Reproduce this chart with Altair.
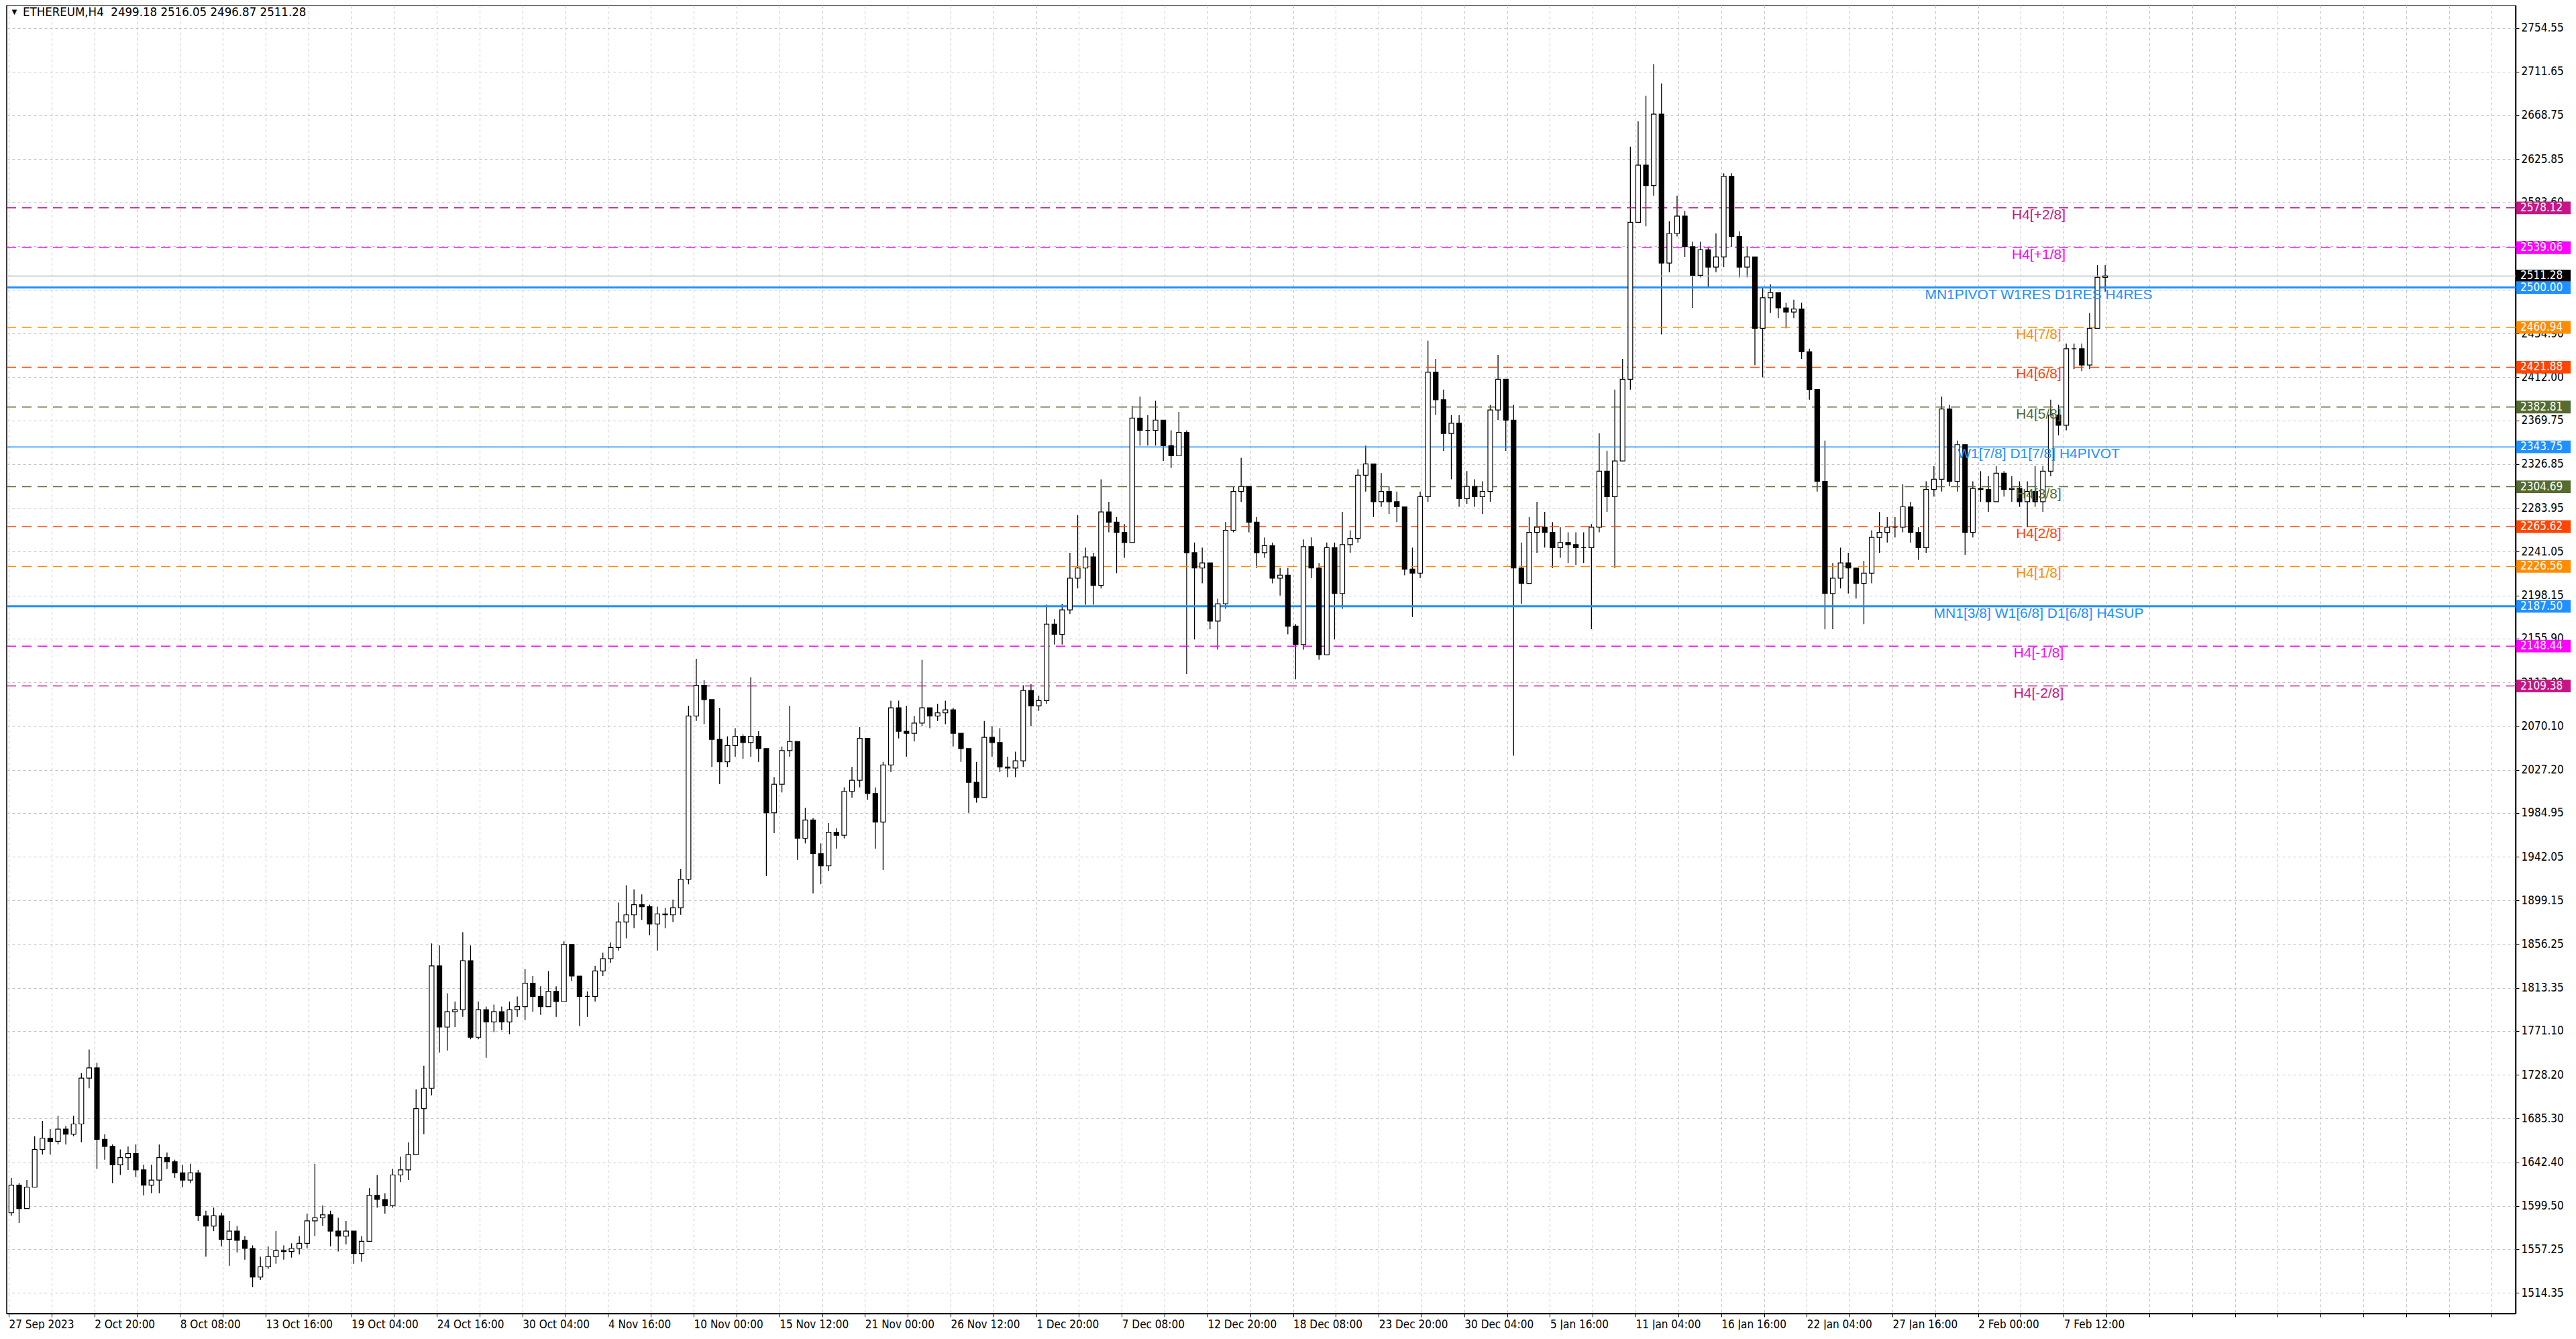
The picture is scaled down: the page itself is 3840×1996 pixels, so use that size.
import altair as alt
import pandas as pd

# ---------------- data (12-hour candles) ----------------
first_open = 1593
closes = [1620,1597,1618,1655,1666,1663,1675,1670,1680,1725,1735,1665,1658,1640,1647,1651,1635,1620,1625,1647,
          1643,1632,1625,1632,1590,1580,1590,1567,1575,1566,1558,1530,1540,1550,1556,1555,1558,1563,1585,1588,
          1591,1575,1570,1575,1553,1565,1610,1606,1600,1630,1635,1650,1695,1715,1835,1775,1790,1792,1840,1765,
          1792,1780,1790,1780,1792,1795,1818,1805,1795,1810,1800,1856,1825,1805,1805,1830,1842,1853,1878,1885,
          1895,1893,1876,1886,1885,1892,1920,2080,2110,2096,2057,2035,2051,2060,2054,2060,2048,1985,2013,2046,
          2055,1960,1978,1945,1933,1966,1963,2006,2017,2058,2004,1976,2032,2088,2065,2063,2073,2088,2080,2083,
          2086,2063,2048,2015,2000,2059,2054,2030,2029,2036,2105,2090,2095,2170,2160,2184,2215,2225,2236,2208,
          2280,2270,2260,2250,2372,2360,2360,2370,2345,2335,2358,2240,2225,2230,2173,2190,2262,2300,2305,2270,
          2240,2247,2215,2218,2168,2150,2246,2225,2140,2245,2200,2248,2254,2316,2327,2290,2300,2290,2285,2224,
          2220,2295,2417,2390,2357,2367,2293,2305,2295,2300,2380,2410,2370,2225,2210,2260,2265,2260,2245,2250,
          2248,2245,2245,2265,2320,2295,2330,2410,2564,2620,2600,2670,2524,2553,2570,2540,2512,2537,2520,2530,
          2609,2550,2520,2530,2460,2490,2495,2480,2476,2479,2437,2400,2310,2200,2215,2230,2225,2210,2220,2255,
          2260,2265,2265,2285,2260,2245,2302,2312,2381,2310,2346,2260,2303,2302,2290,2318,2302,2303,2290,2300,
          2290,2320,2375,2365,2440,2440,2424,2460,2510,2511.28]
highs = [1627,1622,1625,1668,1683,1675,1688,1678,1688,1730,1753,1740,1670,1660,1655,1658,1660,1640,1640,1660,
         1652,1645,1640,1641,1635,1595,1598,1593,1585,1580,1570,1561,1550,1560,1575,1561,1563,1570,1592,1641,
         1600,1595,1588,1585,1575,1570,1617,1630,1612,1636,1648,1662,1714,1737,1857,1855,1808,1800,1868,1855,
         1800,1795,1797,1795,1800,1805,1832,1825,1815,1830,1815,1859,1850,1825,1810,1835,1848,1858,1897,1914,
         1910,1905,1895,1893,1892,1900,1930,2090,2136,2115,2075,2088,2060,2068,2062,2118,2065,2045,2020,2050,
         2090,2045,1990,1980,1955,1975,1970,2010,2030,2069,2040,2010,2035,2095,2095,2090,2080,2135,2088,2092,
         2095,2088,2060,2040,2035,2075,2070,2068,2040,2045,2110,2111,2100,2189,2175,2190,2240,2277,2245,2240,
         2312,2290,2275,2268,2384,2393,2375,2389,2368,2360,2378,2360,2250,2245,2230,2195,2270,2305,2333,2305,
         2275,2255,2250,2225,2225,2170,2253,2255,2230,2250,2250,2280,2262,2322,2345,2305,2318,2305,2300,2275,
         2245,2300,2448,2430,2400,2375,2375,2320,2312,2310,2385,2434,2400,2385,2250,2275,2290,2280,2270,2265,
         2260,2260,2260,2268,2357,2340,2400,2430,2638,2663,2688,2719,2700,2565,2590,2575,2545,2545,2540,2553,
         2612,2612,2555,2540,2530,2500,2503,2490,2485,2488,2485,2440,2400,2350,2230,2245,2240,2225,2232,2262,
         2280,2275,2275,2307,2290,2265,2310,2325,2393,2385,2350,2345,2310,2320,2315,2325,2320,2315,2310,2310,
         2325,2325,2390,2385,2445,2445,2445,2475,2522,2522]
lows = [1590,1583,1598,1620,1650,1650,1660,1660,1668,1662,1715,1636,1645,1622,1630,1635,1628,1610,1612,1612,
        1636,1627,1618,1622,1585,1550,1575,1560,1541,1554,1547,1520,1527,1538,1543,1547,1549,1552,1558,1570,
        1580,1560,1555,1562,1543,1545,1565,1598,1592,1598,1623,1625,1665,1670,1708,1750,1752,1775,1785,1763,
        1763,1745,1770,1772,1768,1785,1782,1790,1787,1795,1785,1800,1820,1776,1785,1800,1825,1838,1850,1862,
        1872,1880,1865,1850,1872,1878,1885,1915,2075,2072,2030,2013,2030,2040,2038,2040,2035,1923,1965,2005,
        2040,1939,1955,1906,1915,1928,1950,1960,2000,2010,1998,1950,1929,2025,2058,2040,2055,2070,2068,2075,
        2072,2050,2035,1985,1995,2020,2040,2025,2020,2020,2030,2070,2085,2092,2150,2150,2180,2205,2189,2189,
        2205,2260,2220,2235,2250,2345,2345,2345,2330,2323,2340,2121,2155,2210,2165,2145,2185,2260,2290,2260,
        2225,2235,2210,2198,2160,2116,2145,2215,2135,2140,2155,2185,2240,2250,2300,2275,2285,2278,2270,2218,
        2177,2215,2290,2375,2340,2312,2285,2288,2285,2278,2290,2370,2340,2041,2190,2215,2240,2245,2225,2235,
        2230,2228,2230,2165,2260,2280,2225,2330,2400,2590,2560,2590,2454,2515,2550,2530,2480,2510,2500,2515,
        2520,2540,2510,2510,2424,2412,2475,2470,2460,2470,2430,2390,2300,2165,2165,2205,2200,2195,2170,2210,
        2240,2250,2255,2260,2250,2233,2240,2295,2300,2305,2300,2238,2255,2290,2280,2290,2295,2290,2285,2265,
        2285,2280,2315,2355,2360,2420,2418,2420,2460,2496]

# horizontal levels drawn by the indicator
level_prices = [2578.12, 2539.06, 2500.00, 2460.94, 2421.88, 2382.81, 2343.75,
                2304.69, 2265.62, 2226.56, 2187.50, 2148.44, 2109.38]
level_names = ["H4[+2/8]", "H4[+1/8]", "MN1PIVOT W1RES D1RES H4RES", "H4[7/8]", "H4[6/8]",
               "H4[5/8]", "W1[7/8] D1[7/8] H4PIVOT", "H4[3/8]", "H4[2/8]", "H4[1/8]",
               "MN1[3/8] W1[6/8] D1[6/8] H4SUP", "H4[-1/8]", "H4[-2/8]"]
level_colors = ["#C71585", "#FF00FF", "#1E90FF", "#FF8C00", "#FF4500", "#556B2F", "#1E90FF",
                "#556B2F", "#FF4500", "#FF8C00", "#1E90FF", "#FF00FF", "#C71585"]
level_solid = [False, False, True, False, False, False, True, False, False, False, True, False, False]
level_width = [1.5, 1.5, 3, 1.5, 1.5, 1.5, 1.5, 1.5, 1.5, 1.5, 3, 1.5, 1.5]

last_price = 2511.28
header_text = "ETHEREUM,H4\u00a0\u00a02499.18 2516.05 2496.87 2511.28"

y_ticks = [2754.55, 2711.65, 2668.75, 2625.85, 2583.60, 2540.70, 2497.80, 2454.90, 2412.00,
           2369.75, 2326.85, 2283.95, 2241.05, 2198.15, 2155.90, 2113.00, 2070.10, 2027.20,
           1984.95, 1942.05, 1899.15, 1856.25, 1813.35, 1771.10, 1728.20, 1685.30, 1642.40,
           1599.50, 1557.25, 1514.35]
x_labels = ["27 Sep 2023", "2 Oct 20:00", "8 Oct 08:00", "13 Oct 16:00", "19 Oct 04:00",
            "24 Oct 16:00", "30 Oct 04:00", "4 Nov 16:00", "10 Nov 00:00", "15 Nov 12:00",
            "21 Nov 00:00", "26 Nov 12:00", "1 Dec 20:00", "7 Dec 08:00", "12 Dec 20:00",
            "18 Dec 08:00", "23 Dec 20:00", "30 Dec 04:00", "5 Jan 16:00", "11 Jan 04:00",
            "16 Jan 16:00", "22 Jan 04:00", "27 Jan 16:00", "2 Feb 00:00", "7 Feb 12:00"]
bars_per_label = 33   # H4 bars between two time labels
h4_per_candle = 3     # each drawn candle = 12 hours

# ---------------- tables ----------------
opens = [first_open] + closes[:-1]
candles = pd.DataFrame({
    "idx": [h4_per_candle * k + 1 for k in range(len(closes))],
    "open": opens, "close": closes, "high": highs, "low": lows,
})
candles["fill"] = ["white" if c >= o else "black" for o, c in zip(opens, closes)]

levels = pd.DataFrame({"price": level_prices, "name": level_names, "color": level_colors,
                       "solid": level_solid, "w": level_width})
boxes = pd.DataFrame({"price": [last_price] + level_prices,
                      "color": ["#000000"] + level_colors})
boxes["label"] = [f"{p:.2f}" for p in boxes["price"]]

W, H = 3740, 1950
FONT = "DejaVu Sans Condensed, DejaVu Sans, sans-serif"
xs = alt.Scale(domain=[0.516, 964.9], nice=False, zero=False)
ys = alt.Scale(domain=[1494.2, 2776.6], nice=False, zero=False)

label_arr = "[" + ",".join(f"'{s}'" for s in x_labels) + "]"
last_lab = bars_per_label * (len(x_labels) - 1)
x_axis = alt.Axis(
    values=[bars_per_label / 2 * i for i in range(59)],
    labelExpr=f"(datum.value % {bars_per_label} == 0 && datum.value <= {last_lab}) ? "
              f"{label_arr}[round(datum.value / {bars_per_label})] : ''",
    grid=True, gridDash=[4, 4], gridColor="#c4c4c4", gridWidth=1,
    tickSize=5, tickColor="black", domainColor="black", domainWidth=1.5,
    labelAlign="left", labelPadding=3, labelFont=FONT, labelFontSize=17,
    labelColor="black", labelOverlap=False, labelFlush=False, title=None,
)
y_axis = alt.Axis(
    orient="right", values=y_ticks, format=".2f",
    grid=True, gridDash=[4, 4], gridColor="#c4c4c4", gridWidth=1,
    tickSize=5, tickColor="black", domainColor="black", domainWidth=1.5,
    labelPadding=3, labelFont=FONT, labelFontSize=17, labelColor="black",
    labelOverlap=False, labelFlush=False, title=None,
)

wicks = alt.Chart(candles).mark_rule(color="black", strokeWidth=1.3, clip=True).encode(
    x=alt.X("idx:Q", scale=xs, axis=x_axis),
    y=alt.Y("low:Q", scale=ys, axis=y_axis),
    y2="high:Q",
)
bodies = alt.Chart(candles).mark_bar(size=7, stroke="black", strokeWidth=1.2, clip=True).encode(
    x=alt.X("idx:Q", scale=xs),
    y=alt.Y("open:Q", scale=ys),
    y2="close:Q",
    fill=alt.Fill("fill:N", scale=None),
)

dashed = alt.Chart(levels).transform_filter("!datum.solid").mark_rule(strokeDash=[14, 9]).encode(
    y=alt.Y("price:Q", scale=ys),
    color=alt.Color("color:N", scale=None),
    strokeWidth=alt.StrokeWidth("w:Q", scale=None),
)
solid = alt.Chart(levels).transform_filter("datum.solid").mark_rule().encode(
    y=alt.Y("price:Q", scale=ys),
    color=alt.Color("color:N", scale=None),
    strokeWidth=alt.StrokeWidth("w:Q", scale=None),
)
cur_line = alt.Chart(pd.DataFrame({"price": [last_price]})).mark_rule(
    color="#c0c0c0", strokeWidth=1.5).encode(y=alt.Y("price:Q", scale=ys))

level_text = alt.Chart(levels).mark_text(
    align="center", baseline="middle", dy=11, font="Liberation Sans, Arial, sans-serif",
    fontSize=21).encode(
    x=alt.value(3029),
    y=alt.Y("price:Q", scale=ys),
    color=alt.Color("color:N", scale=None),
    text="name:N",
)

box_rect = alt.Chart(boxes).transform_calculate(
    lo="datum.price - 6.2", hi="datum.price + 6.2"
).mark_rect().encode(
    x=alt.value(W + 1), x2=alt.value(W + 82),
    y=alt.Y("lo:Q", scale=ys), y2="hi:Q",
    color=alt.Color("color:N", scale=None),
)
box_text = alt.Chart(boxes).mark_text(
    align="left", baseline="middle", font=FONT, fontSize=17, color="white").encode(
    x=alt.value(W + 7),
    y=alt.Y("price:Q", scale=ys),
    text="label:N",
)

hdr = pd.DataFrame({"t": [header_text]})
header = alt.Chart(hdr).mark_text(align="left", baseline="middle", font=FONT,
                                  fontSize=18.5, color="black").encode(
    x=alt.value(24), y=alt.value(10), text="t:N")
tri = alt.Chart(pd.DataFrame({"t": ["▼"]})).mark_text(
    align="left", baseline="middle", fontSize=13, color="black").encode(
    x=alt.value(5), y=alt.value(10), text="t:N")

chart = alt.layer(
    wicks, dashed, solid, cur_line, bodies, level_text, box_rect, box_text, header, tri
).properties(
    width=W, height=H, padding={"left": 0, "top": 0, "right": 0, "bottom": 0},
    background="white",
).configure_view(stroke="black", strokeWidth=1.5)

chart.save("out.html", embed_options={"renderer": "svg", "actions": False})
